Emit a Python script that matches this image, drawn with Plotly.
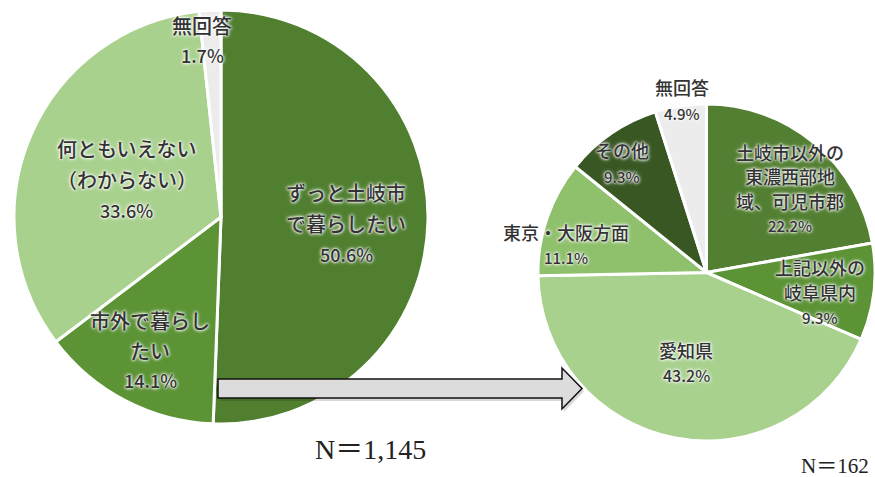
import plotly.graph_objects as go

# Current residents: where they want to live in the future (N=1,145)
left_labels = ["ずっと土岐市<br>で暮らしたい", "市外で暮らし<br>たい", "何ともいえない<br>（わからない）", "無回答"]
left_values = [50.6, 14.1, 33.6, 1.7]
left_colors = ["#507f30", "#5b9335", "#a9d18e", "#ececec"]

# Those who want to live outside the city: destination (N=162)
right_labels = ["土岐市以外の<br>東濃西部地<br>域、可児市郡", "上記以外の<br>岐阜県内", "愛知県",
                "東京・大阪方面", "その他", "無回答"]
right_values = [22.2, 9.3, 43.2, 11.1, 9.3, 4.9]
right_colors = ["#527f31", "#5b9335", "#a9d18e", "#8fc06c", "#385723", "#ececec"]

left_n = "N＝1,145"
right_n = "N＝162"

W, H = 875, 477
JP_FONT = "Noto Sans CJK JP"
TEXT_COLOR = "#333333"
HALO = "0px 0px 2px white, 0px 0px 3px white, 0px 0px 4px white"


def px(x, y):
    """pixel position -> paper fractions"""
    return x / W, 1 - y / H


fig = go.Figure()

for labels, values, colors, dom in [
    (left_labels, left_values, left_colors, dict(x=[14 / W, 428 / W], y=[1 - 424 / H, 1 - 10 / H])),
    (right_labels, right_values, right_colors, dict(x=[538 / W, 1.0], y=[1 - 441 / H, 1 - 104 / H])),
]:
    fig.add_trace(go.Pie(
        labels=labels, values=values, sort=False, direction="clockwise", rotation=0,
        marker=dict(colors=colors, line=dict(color="white", width=3)),
        textinfo="none", hoverinfo="label+percent", showlegend=False, domain=dom,
    ))

# label blocks: (center x, first line y, line step, label size, percent size)
left_pos = [(346, 192, 31, 20, 18), (150, 320, 30, 20, 18), (127, 148, 31, 20, 18), (202, 25, 30, 20, 18)]
right_pos = [(790, 152, 24.5, 18, 15), (820, 267, 25, 18, 15), (686, 350, 25, 18, 16),
             (566, 232, 25, 18, 15), (622, 150, 27, 18, 15), (682, 87, 26, 18, 15)]

annotations = []
for labels, values, positions in [(left_labels, left_values, left_pos), (right_labels, right_values, right_pos)]:
    for lab, val, (cx, y0, step, fs, ps) in zip(labels, values, positions):
        lines = lab.split("<br>") + [f"{val:.1f}%"]
        for i, line in enumerate(lines):
            is_pct = i == len(lines) - 1
            x, y = px(cx, y0 + i * step)
            annotations.append(dict(
                x=x, y=y, xref="paper", yref="paper", text=line, showarrow=False,
                xanchor="center", yanchor="middle",
                font=dict(family=JP_FONT, size=ps if is_pct else fs, color=TEXT_COLOR,
                          weight=500, shadow=HALO),
            ))

# sample sizes
for text, (ax, cy), size, anchor in [(left_n, (370, 449), 28, "center"), (right_n, (871, 466), 21, "right")]:
    x, y = px(ax, cy)
    annotations.append(dict(x=x, y=y, xref="paper", yref="paper", text=text, showarrow=False,
                            xanchor=anchor, yanchor="middle",
                            font=dict(family="Liberation Serif, " + JP_FONT, size=size, color="#222222")))


# block arrow between the two pies
def arrow_path(dx=0, dy=0):
    pts = [(218, 379), (562, 379), (562, 368), (582, 388.5), (562, 409), (562, 398), (218, 398)]
    coords = [px(x + dx, y + dy) for x, y in pts]
    return "M " + " L ".join(f"{a:.5f},{b:.5f}" for a, b in coords) + " Z"


shapes = [
    dict(type="path", xref="paper", yref="paper", path=arrow_path(2, 3),
         fillcolor="rgba(0,0,0,0.15)", line=dict(width=0)),
    dict(type="path", xref="paper", yref="paper", path=arrow_path(),
         fillcolor="#dcdcdc", line=dict(color="#111111", width=1.5)),
]

fig.update_layout(
    width=W, height=H, margin=dict(l=0, r=0, t=0, b=0),
    paper_bgcolor="white", plot_bgcolor="white",
    annotations=annotations, shapes=shapes,
)

fig.write_html("out.html")
